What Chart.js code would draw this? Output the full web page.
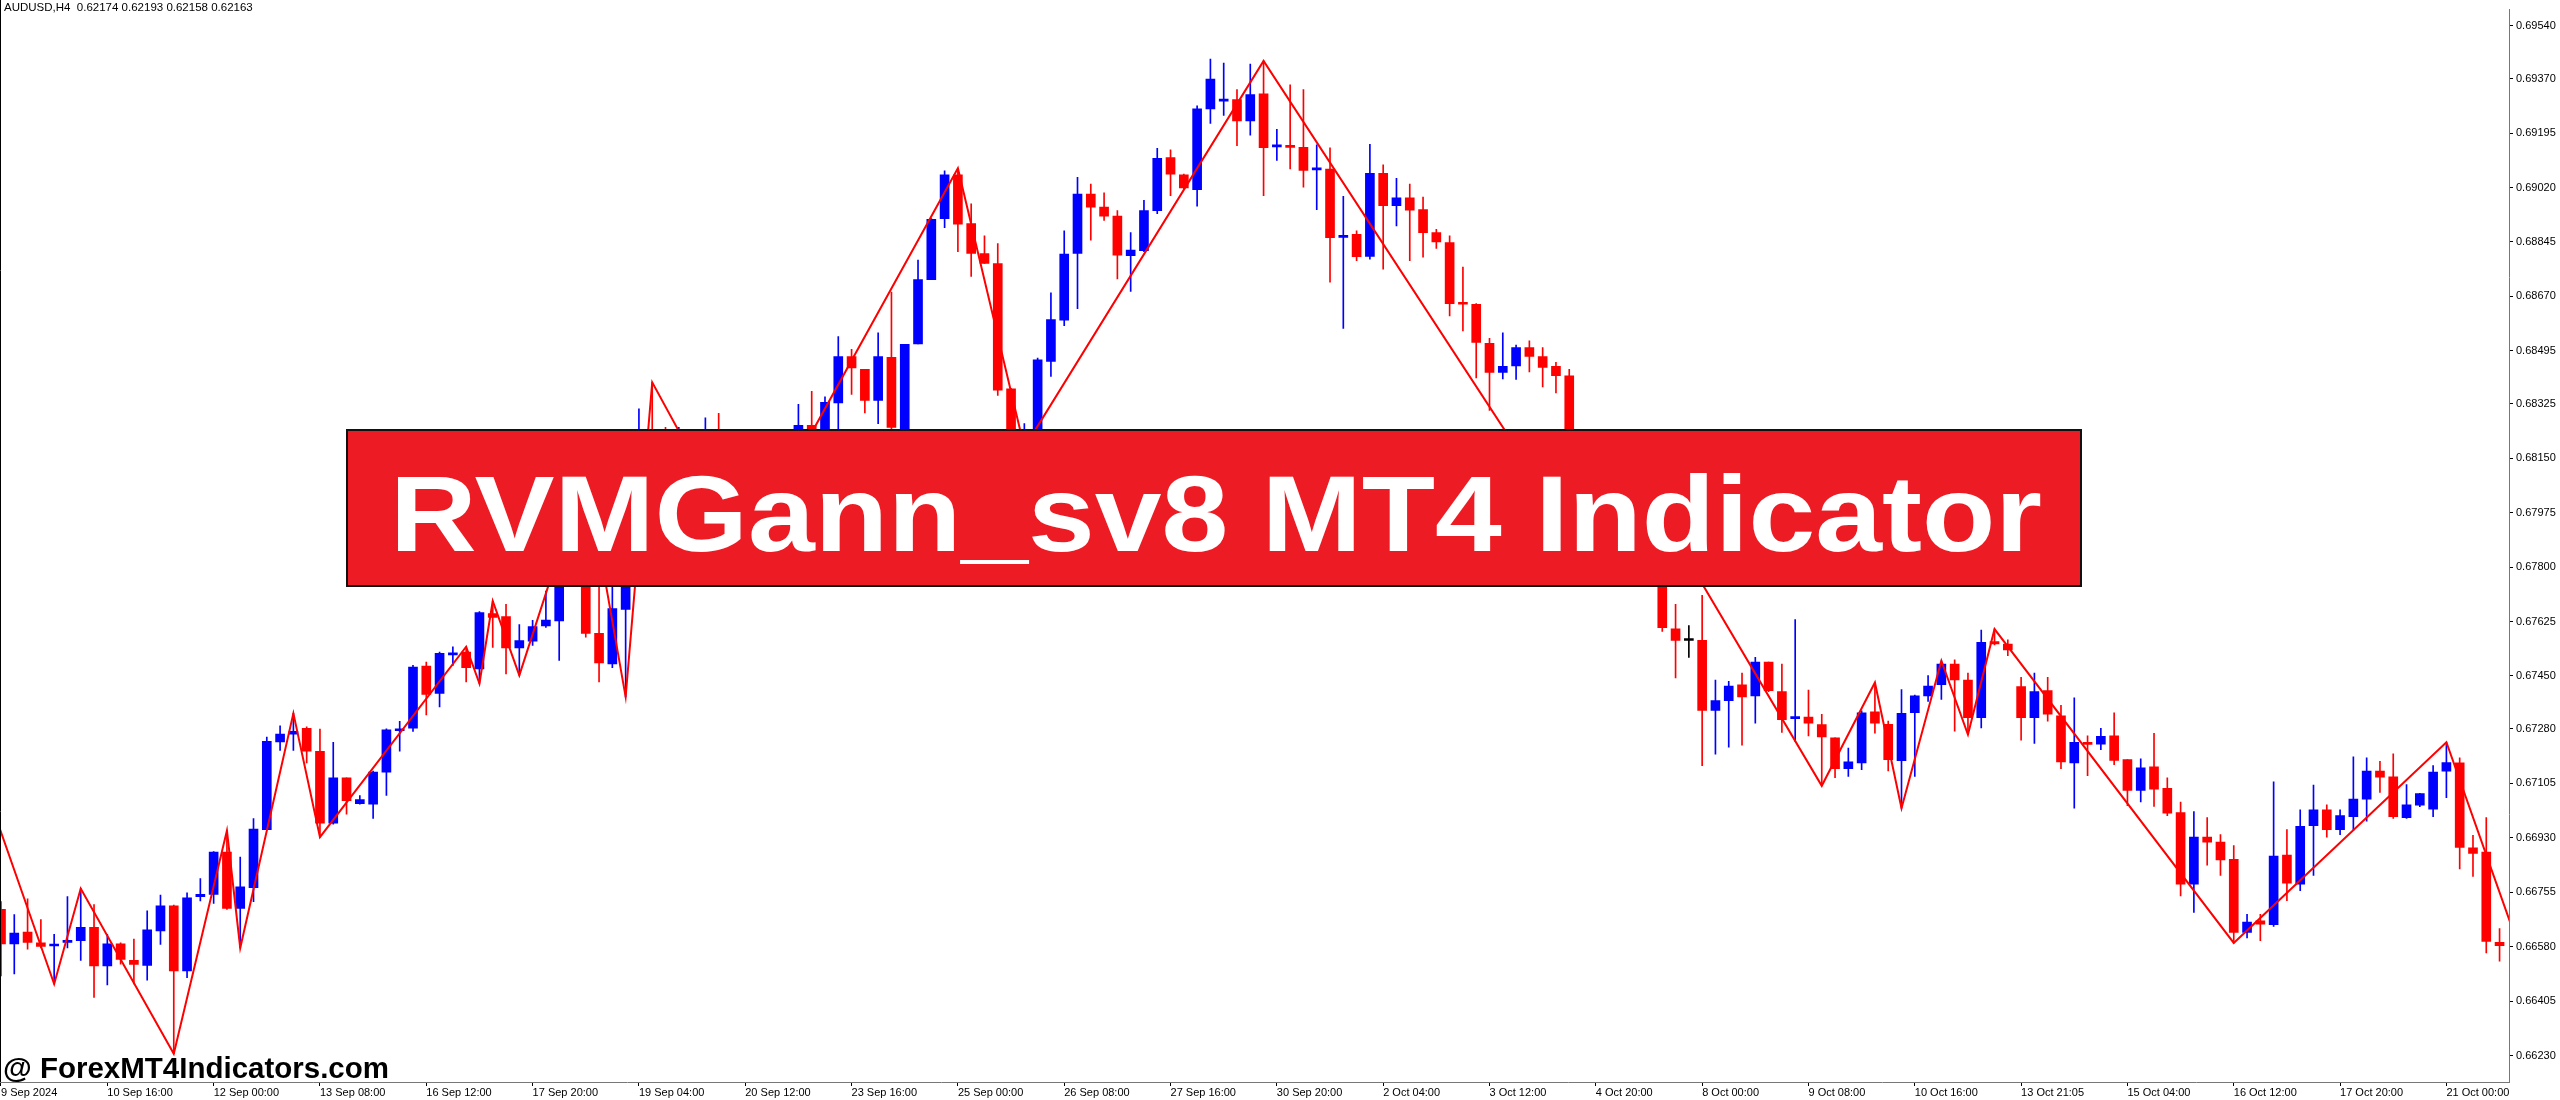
<!DOCTYPE html>
<html>
<head>
<meta charset="utf-8">
<title>RVMGann_sv8 MT4 Indicator</title>
<script src="https://cdn.jsdelivr.net/npm/chart.js@4.4.1/dist/chart.umd.min.js"></script>
<style>
  html, body { margin: 0; padding: 0; background: #fff; }
  canvas { display: block; }
</style>
</head>
<body>
<canvas id="candleChart" width="2560" height="1100"></canvas>
<script>
// AUDUSD H4, 9 Sep - 21 Oct 2024, one entry per bar
const openP = [
  0.66700, 0.66589, 0.66627, 0.66592, 0.66582, 0.66594, 0.66599, 0.66642, 0.66518, 0.66589,
  0.66536, 0.66520, 0.66631, 0.66711, 0.66502, 0.66741, 0.66748, 0.66884, 0.66703, 0.66770,
  0.66956, 0.67238, 0.67263, 0.67282, 0.67208, 0.66977, 0.67123, 0.67040, 0.67038, 0.67141,
  0.67274, 0.67282, 0.67482, 0.67394, 0.67518, 0.67527, 0.67473, 0.67651, 0.67641, 0.67540,
  0.67562, 0.67611, 0.67627, 0.67872, 0.67951, 0.67587, 0.67489, 0.67664, 0.67935, 0.68174,
  0.68095, 0.68031, 0.68111, 0.68015, 0.68095, 0.67983, 0.67903, 0.67888, 0.68015, 0.68079,
  0.68158, 0.68256, 0.68190, 0.68328, 0.68477, 0.68436, 0.68336, 0.68474, 0.68245, 0.68517,
  0.68724, 0.68920, 0.69061, 0.68904, 0.68808, 0.68776, 0.68373, 0.68203, 0.68216, 0.68461,
  0.68594, 0.68808, 0.68999, 0.68957, 0.68928, 0.68801, 0.68817, 0.68946, 0.69116, 0.69061,
  0.69013, 0.69273, 0.69298, 0.69303, 0.69234, 0.69321, 0.69151, 0.69152, 0.69149, 0.69077,
  0.69079, 0.68860, 0.68870, 0.68799, 0.69066, 0.68962, 0.68987, 0.68949, 0.68875, 0.68843,
  0.68648, 0.68645, 0.68519, 0.68426, 0.68447, 0.68506, 0.68477, 0.68445, 0.68415, 0.68095,
  0.67903, 0.67840, 0.67999, 0.68047, 0.67983, 0.67872, 0.67602, 0.67564, 0.67565, 0.67339,
  0.67371, 0.67422, 0.67386, 0.67495, 0.67400, 0.67313, 0.67318, 0.67294, 0.67251, 0.67152,
  0.67171, 0.67335, 0.67295, 0.67178, 0.67332, 0.67386, 0.67422, 0.67488, 0.67437, 0.67316,
  0.67561, 0.67553, 0.67416, 0.67316, 0.67403, 0.67322, 0.67171, 0.67233, 0.67231, 0.67258,
  0.67181, 0.67082, 0.67158, 0.67089, 0.67011, 0.66781, 0.66932, 0.66916, 0.66861, 0.66626,
  0.66663, 0.66651, 0.66874, 0.66781, 0.66969, 0.67020, 0.66956, 0.66998, 0.67054, 0.67144,
  0.67126, 0.66995, 0.67035, 0.67022, 0.67144, 0.67171, 0.66898, 0.66884, 0.66594
];
const highP = [
  0.66725, 0.66683, 0.66734, 0.66667, 0.66620, 0.66741, 0.66767, 0.66715, 0.66620, 0.66592,
  0.66604, 0.66695, 0.66746, 0.66714, 0.66753, 0.66799, 0.66886, 0.66953, 0.66868, 0.66992,
  0.67254, 0.67290, 0.67330, 0.67287, 0.67279, 0.67237, 0.67123, 0.67066, 0.67144, 0.67280,
  0.67304, 0.67484, 0.67495, 0.67527, 0.67544, 0.67544, 0.67657, 0.67691, 0.67680, 0.67615,
  0.67629, 0.67723, 0.67903, 0.67999, 0.68111, 0.67760, 0.67760, 0.67999, 0.68309, 0.68394,
  0.68249, 0.68249, 0.68190, 0.68280, 0.68294, 0.68158, 0.68238, 0.68095, 0.68142, 0.68190,
  0.68323, 0.68365, 0.68347, 0.68541, 0.68500, 0.68436, 0.68553, 0.68684, 0.68516, 0.68787,
  0.68920, 0.69074, 0.69082, 0.68968, 0.68865, 0.68840, 0.68375, 0.68261, 0.68472, 0.68682,
  0.68881, 0.69053, 0.69031, 0.69003, 0.68946, 0.68875, 0.68979, 0.69146, 0.69141, 0.69063,
  0.69283, 0.69433, 0.69420, 0.69335, 0.69417, 0.69427, 0.69207, 0.69350, 0.69335, 0.69157,
  0.69148, 0.68992, 0.68881, 0.69159, 0.69093, 0.69050, 0.69031, 0.68989, 0.68886, 0.68865,
  0.68764, 0.68647, 0.68535, 0.68553, 0.68514, 0.68527, 0.68506, 0.68458, 0.68436, 0.68126,
  0.67935, 0.68031, 0.68069, 0.68107, 0.68015, 0.67903, 0.67680, 0.67612, 0.67709, 0.67437,
  0.67433, 0.67459, 0.67510, 0.67495, 0.67488, 0.67631, 0.67405, 0.67327, 0.67251, 0.67218,
  0.67338, 0.67429, 0.67305, 0.67406, 0.67389, 0.67451, 0.67499, 0.67502, 0.67459, 0.67598,
  0.67601, 0.67566, 0.67446, 0.67459, 0.67446, 0.67356, 0.67380, 0.67258, 0.67282, 0.67332,
  0.67181, 0.67184, 0.67266, 0.67123, 0.67045, 0.67014, 0.66995, 0.66940, 0.66905, 0.66684,
  0.66684, 0.67110, 0.66956, 0.67020, 0.67099, 0.67036, 0.67020, 0.67190, 0.67187, 0.67176,
  0.67200, 0.67101, 0.67073, 0.67162, 0.67237, 0.67187, 0.66938, 0.66995, 0.66638
];
const lowP = [
  0.66486, 0.66492, 0.66572, 0.66576, 0.66460, 0.66576, 0.66536, 0.66417, 0.66457, 0.66524,
  0.66460, 0.66472, 0.66587, 0.66236, 0.66480, 0.66727, 0.66719, 0.66700, 0.66576, 0.66725,
  0.66956, 0.67211, 0.67211, 0.67171, 0.66932, 0.66974, 0.67006, 0.67038, 0.66992, 0.67066,
  0.67208, 0.67272, 0.67325, 0.67351, 0.67484, 0.67431, 0.67426, 0.67542, 0.67457, 0.67452,
  0.67548, 0.67606, 0.67500, 0.67808, 0.67575, 0.67431, 0.67477, 0.67383, 0.67903, 0.68063,
  0.67983, 0.67999, 0.67967, 0.67951, 0.67935, 0.67872, 0.67846, 0.67872, 0.67983, 0.68047,
  0.68126, 0.68158, 0.68174, 0.68245, 0.68355, 0.68296, 0.68261, 0.68243, 0.68235, 0.68517,
  0.68724, 0.68891, 0.68814, 0.68734, 0.68776, 0.68352, 0.68197, 0.68184, 0.68200, 0.68413,
  0.68576, 0.68631, 0.68851, 0.68914, 0.68726, 0.68686, 0.68814, 0.68936, 0.68994, 0.69015,
  0.68960, 0.69226, 0.69252, 0.69155, 0.69188, 0.68994, 0.69107, 0.69080, 0.69021, 0.68949,
  0.68716, 0.68567, 0.68785, 0.68790, 0.68758, 0.68897, 0.68785, 0.68796, 0.68824, 0.68607,
  0.68559, 0.68408, 0.68304, 0.68405, 0.68403, 0.68427, 0.68379, 0.68360, 0.68063, 0.67872,
  0.67792, 0.67824, 0.67967, 0.67935, 0.67808, 0.67593, 0.67444, 0.67510, 0.67162, 0.67199,
  0.67221, 0.67228, 0.67298, 0.67400, 0.67269, 0.67240, 0.67257, 0.67097, 0.67123, 0.67127,
  0.67149, 0.67266, 0.67145, 0.67025, 0.67127, 0.67368, 0.67375, 0.67273, 0.67262, 0.67283,
  0.67550, 0.67515, 0.67244, 0.67233, 0.67305, 0.67152, 0.67025, 0.67130, 0.67213, 0.67165,
  0.67033, 0.67045, 0.67031, 0.67001, 0.66743, 0.66690, 0.66842, 0.66809, 0.66592, 0.66608,
  0.66599, 0.66645, 0.66728, 0.66760, 0.66809, 0.66932, 0.66940, 0.66953, 0.66983, 0.67076,
  0.66992, 0.66992, 0.67030, 0.66998, 0.67059, 0.66830, 0.66806, 0.66560, 0.66533
];
const closeP = [
  0.66589, 0.66624, 0.66594, 0.66581, 0.66588, 0.66600, 0.66642, 0.66518, 0.66589, 0.66539,
  0.66523, 0.66634, 0.66711, 0.66502, 0.66737, 0.66748, 0.66884, 0.66703, 0.66772, 0.66958,
  0.67240, 0.67263, 0.67272, 0.67208, 0.66977, 0.67123, 0.67049, 0.67053, 0.67141, 0.67277,
  0.67280, 0.67479, 0.67391, 0.67523, 0.67523, 0.67477, 0.67654, 0.67638, 0.67540, 0.67564,
  0.67609, 0.67630, 0.67872, 0.67951, 0.67587, 0.67492, 0.67667, 0.67935, 0.68174, 0.68095,
  0.68031, 0.68111, 0.68015, 0.68095, 0.67983, 0.67903, 0.67888, 0.68015, 0.68079, 0.68158,
  0.68256, 0.68190, 0.68330, 0.68477, 0.68440, 0.68336, 0.68477, 0.68249, 0.68516, 0.68724,
  0.68918, 0.69061, 0.68902, 0.68808, 0.68776, 0.68369, 0.68216, 0.68238, 0.68466, 0.68596,
  0.68806, 0.68999, 0.68957, 0.68928, 0.68803, 0.68819, 0.68946, 0.69114, 0.69063, 0.69019,
  0.69273, 0.69369, 0.69300, 0.69234, 0.69319, 0.69148, 0.69154, 0.69149, 0.69075, 0.69081,
  0.68859, 0.68863, 0.68798, 0.69066, 0.68962, 0.68987, 0.68947, 0.68875, 0.68845, 0.68647,
  0.68645, 0.68522, 0.68426, 0.68445, 0.68506, 0.68477, 0.68442, 0.68415, 0.68095, 0.67903,
  0.67840, 0.67999, 0.68047, 0.67983, 0.67872, 0.67605, 0.67564, 0.67564, 0.67339, 0.67371,
  0.67418, 0.67383, 0.67495, 0.67403, 0.67310, 0.67316, 0.67298, 0.67254, 0.67152, 0.67174,
  0.67332, 0.67298, 0.67181, 0.67330, 0.67386, 0.67418, 0.67488, 0.67437, 0.67316, 0.67558,
  0.67553, 0.67534, 0.67316, 0.67400, 0.67327, 0.67174, 0.67237, 0.67230, 0.67256, 0.67179,
  0.67082, 0.67155, 0.67086, 0.67009, 0.66781, 0.66932, 0.66916, 0.66859, 0.66626, 0.66659,
  0.66652, 0.66871, 0.66784, 0.66967, 0.67020, 0.66956, 0.67001, 0.67054, 0.67144, 0.67125,
  0.66998, 0.67036, 0.67072, 0.67141, 0.67172, 0.66899, 0.66880, 0.66597, 0.66583
];

// zigzag turning points (bar index, price)
const zzIdx = [-3, 4, 6, 13, 17, 18, 22, 24, 35, 36, 37, 39, 44, 47, 49, 56, 72, 77, 95,
  120, 123, 137, 141, 143, 146, 148, 150, 168, 184, 190];
const zzPrice = [0.67314, 0.66460, 0.66767, 0.66236, 0.66953, 0.66576, 0.67330, 0.66932,
  0.67544, 0.67426, 0.67691, 0.67452, 0.68111, 0.67383, 0.68394, 0.67846, 0.69082, 0.68184,
  0.69427, 0.67792, 0.68107, 0.67097, 0.67429, 0.67025, 0.67499, 0.67262, 0.67601, 0.66592,
  0.67237, 0.66513];

const xTickIdx = [0, 8, 16, 24, 32, 40, 48, 56, 64, 72, 80, 88, 96, 104, 112, 120, 128,
  136, 144, 152, 160, 168, 176, 184];
const xTickLabels = ['9 Sep 2024', '10 Sep 16:00', '12 Sep 00:00', '13 Sep 08:00',
  '16 Sep 12:00', '17 Sep 20:00', '19 Sep 04:00', '20 Sep 12:00', '23 Sep 16:00',
  '25 Sep 00:00', '26 Sep 08:00', '27 Sep 16:00', '30 Sep 20:00', '2 Oct 04:00',
  '3 Oct 12:00', '4 Oct 20:00', '8 Oct 00:00', '9 Oct 08:00', '10 Oct 16:00',
  '13 Oct 21:05', '15 Oct 04:00', '16 Oct 12:00', '17 Oct 20:00', '21 Oct 00:00'];
const yTicks = [0.69540, 0.69370, 0.69195, 0.69020, 0.68845, 0.68670, 0.68495, 0.68325,
  0.68150, 0.67975, 0.67800, 0.67625, 0.67450, 0.67280, 0.67105, 0.66930, 0.66755,
  0.66580, 0.66405, 0.66230];

const UP = '#0000FF', DOWN = '#FF0000', FLAT = '#000000';
const barColor = openP.map((o, i) => closeP[i] > o ? UP : (closeP[i] < o ? DOWN : FLAT));

const wickData = openP.map((o, i) => ({ x: i, y: [lowP[i], highP[i]] }));
const bodyData = openP.map((o, i) => ({ x: i, y: [o, closeP[i]] }));
const zigzagData = zzIdx.map((v, i) => ({ x: v, y: zzPrice[i] }));

const FONT = '"Liberation Sans", Arial, sans-serif';

// frame, header line, title banner and watermark on top of the plot
const overlayPlugin = {
  id: 'overlay',
  afterDraw(chart) {
    const { ctx, chartArea } = chart;
    ctx.save();
    ctx.strokeStyle = '#000';
    ctx.lineWidth = 1;
    ctx.beginPath();
    ctx.moveTo(0.5, 0);
    ctx.lineTo(0.5, chartArea.bottom);
    ctx.stroke();

    ctx.fillStyle = '#000';
    ctx.font = '11.5px ' + FONT;
    ctx.textBaseline = 'middle';
    ctx.textAlign = 'left';
    ctx.fillText('AUDUSD,H4  0.62174 0.62193 0.62158 0.62163', 4, 8);

    // banner
    ctx.fillStyle = '#ED1C24';
    ctx.fillRect(347, 430, 1734, 156);
    ctx.lineWidth = 2;
    ctx.strokeStyle = '#111';
    ctx.strokeRect(347, 430, 1734, 156);

    const fitText = (text, font, x, y, width, color) => {
      ctx.font = font;
      const w = ctx.measureText(text).width;
      ctx.save();
      ctx.translate(x, y);
      ctx.scale(width / w, 1);
      ctx.fillStyle = color;
      ctx.textBaseline = 'alphabetic';
      ctx.fillText(text, 0, 0);
      ctx.restore();
    };
    fitText('RVMGann_sv8 MT4 Indicator', 'bold 108px ' + FONT, 390, 551, 1652, '#fff');
    fitText('@ ForexMT4Indicators.com', 'bold 29px ' + FONT, 3, 1078, 386, '#000');
    ctx.restore();
  }
};

const ctx = document.getElementById('candleChart').getContext('2d');
new Chart(ctx, {
  type: 'bar',
  data: {
    datasets: [
      {
        type: 'line',
        data: zigzagData,
        borderColor: '#FF0000',
        borderWidth: 2,
        pointRadius: 0,
        tension: 0,
        order: 0
      },
      {
        data: bodyData,
        backgroundColor: barColor,
        barThickness: 9,
        minBarLength: 2,
        grouped: false,
        order: 1
      },
      {
        data: wickData,
        backgroundColor: barColor,
        barThickness: 1,
        grouped: false,
        order: 2
      }
    ]
  },
  options: {
    responsive: false,
    devicePixelRatio: 1,
    animation: false,
    layout: { padding: 0 },
    plugins: {
      legend: { display: false },
      tooltip: { enabled: false }
    },
    scales: {
      x: {
        type: 'linear',
        offset: false,
        min: -0.075,
        max: 188.71,
        afterBuildTicks: (scale) => { scale.ticks = xTickIdx.map(v => ({ value: v })); },
        afterFit: (scale) => { scale.height = 18; },
        ticks: {
          autoSkip: false,
          maxRotation: 0,
          minRotation: 0,
          align: 'start',
          padding: 0,
          color: '#000',
          font: { family: FONT, size: 11 },
          callback: (value, index) => xTickLabels[index]
        },
        grid: { drawOnChartArea: false, offset: false, tickLength: 4, color: '#000' },
        border: { display: true, color: '#777', width: 1 }
      },
      y: {
        position: 'right',
        min: 0.66145,
        max: 0.69592,
        afterBuildTicks: (scale) => { scale.ticks = yTicks.map(v => ({ value: v })); },
        afterFit: (scale) => { scale.width = 51; },
        ticks: {
          padding: 3,
          color: '#000',
          font: { family: FONT, size: 11 },
          callback: (value) => value.toFixed(5)
        },
        grid: { drawOnChartArea: false, tickLength: 4, color: '#000' },
        border: { display: true, color: '#777', width: 1 }
      }
    }
  },
  plugins: [overlayPlugin]
});
</script>
</body>
</html>
